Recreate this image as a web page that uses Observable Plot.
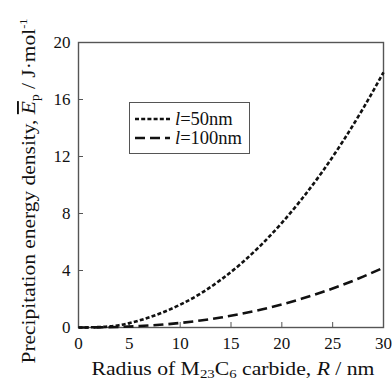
<!DOCTYPE html>
<html>
<head>
<meta charset="utf-8">
<script src="https://cdn.jsdelivr.net/npm/d3@7"></script>
<script src="https://cdn.jsdelivr.net/npm/@observablehq/plot@0.6"></script>
<style>
  body { margin: 0; background: #fff; }
  #wrap { position: relative; width: 392px; height: 381px; font-family: "Liberation Serif", "DejaVu Serif", serif; }
  #wrap svg, #wrap svg text { font-family: "Liberation Serif", "DejaVu Serif", serif !important; }
  #legend { position: absolute; left: 129px; top: 102px; width: 121px; height: 52px; border: 1.3px solid #555; background: #fff; box-sizing: border-box; }
  .row { position: absolute; left: 5px; height: 20px; display: flex; align-items: center; font-size: 18.5px; color: #111; white-space: nowrap; }
  .row svg { margin-right: 5px; }
</style>
</head>
<body>
<div id="wrap"></div>
<script>
// Radius R (nm)
const radius = [0, 2, 4, 6, 8, 10, 12, 14, 16, 18, 20, 22, 24, 26, 28, 30];
// l = 50 nm (J/mol)
const e50 = [0, 0.03, 0.16, 0.5, 0.98, 1.6, 2.38, 3.35, 4.49, 5.82, 7.34, 9.05, 10.95, 13.06, 15.38, 17.9];
// l = 100 nm (J/mol)
const e100 = [0, 0.01, 0.04, 0.1, 0.19, 0.32, 0.49, 0.7, 0.96, 1.26, 1.62, 2.03, 2.49, 3.0, 3.57, 4.2];
const seriesNames = ["l=50nm", "l=100nm"];
const xTicks = [0, 5, 10, 15, 20, 25, 30];
const yTicks = [0, 4, 8, 12, 16, 20];

const d50 = radius.map((r, i) => ({R: r, E: e50[i]}));
const d100 = radius.map((r, i) => ({R: r, E: e100[i]}));

const plot = Plot.plot({
  width: 392,
  height: 381,
  marginLeft: 78,
  marginRight: 9,
  marginTop: 42,
  marginBottom: 54,
  style: {fontFamily: "'Liberation Serif', serif", fontSize: "17px", color: "#111", background: "white"},
  x: {domain: [0, 30], ticks: xTicks, label: null},
  y: {domain: [0, 20], ticks: yTicks, label: null},
  marks: [
    Plot.axisX({ticks: xTicks, tickSize: -5, tickPadding: 14, stroke: "#555", fontSize: 17, label: null}),
    Plot.axisY({ticks: yTicks, tickSize: -5, tickPadding: 13, stroke: "#555", fontSize: 17, label: null}),
    Plot.frame({stroke: "#555", strokeWidth: 1.4}),
    Plot.line(d100, {x: "R", y: "E", stroke: "#111", strokeWidth: 2.6, strokeDasharray: "10,5", strokeLinecap: "butt", curve: "monotone-x"}),
    Plot.line(d50, {x: "R", y: "E", stroke: "#111", strokeWidth: 2.6, strokeDasharray: "4,2.2", strokeLinecap: "butt", curve: "monotone-x"})
  ]
});

const svg = d3.select(plot);
// x-axis label
const xl = svg.append("text")
  .attr("x", 233).attr("y", 375)
  .attr("text-anchor", "middle")
  .attr("font-size", 19).attr("fill", "#111")
  .attr("textLength", 283).attr("lengthAdjust", "spacingAndGlyphs");
xl.append("tspan").text("Radius of M");
xl.append("tspan").attr("font-size", 13).attr("dy", 3).text("23");
xl.append("tspan").attr("dy", -3).text("C");
xl.append("tspan").attr("font-size", 13).attr("dy", 3).text("6");
xl.append("tspan").attr("dy", -3).text(" carbide, ");
xl.append("tspan").attr("font-style", "italic").text("R");
xl.append("tspan").text(" / nm");

// y-axis label
const yl = svg.append("text")
  .attr("transform", "translate(35,191) rotate(-90)")
  .attr("text-anchor", "middle")
  .attr("font-size", 19).attr("fill", "#111")
  .attr("textLength", 345).attr("lengthAdjust", "spacingAndGlyphs");
yl.append("tspan").text("Precipitation energy density, ");
yl.append("tspan").attr("font-style", "italic").attr("text-decoration", "overline").text("E");
yl.append("tspan").attr("font-size", 12).attr("dy", 4).text("p");
yl.append("tspan").attr("dy", -4).text(" / J·mol");
yl.append("tspan").attr("font-size", 11).attr("dy", -8).text("-1");

const wrap = document.getElementById("wrap");
wrap.appendChild(plot);

// Legend
const legend = document.createElement("div");
legend.id = "legend";
const dashes = ["4,2.2", "10,5"];
seriesNames.forEach((name, i) => {
  const row = document.createElement("div");
  row.className = "row";
  row.style.top = (6 + i * 19) + "px";
  row.innerHTML = `<svg width="35" height="6"><line x1="0" y1="3" x2="35" y2="3" stroke="#111" stroke-width="2.6" stroke-dasharray="${dashes[i]}"/></svg><span><i>l</i>${name.slice(1)}</span>`;
  legend.appendChild(row);
});
wrap.appendChild(legend);
</script>
</body>
</html>
